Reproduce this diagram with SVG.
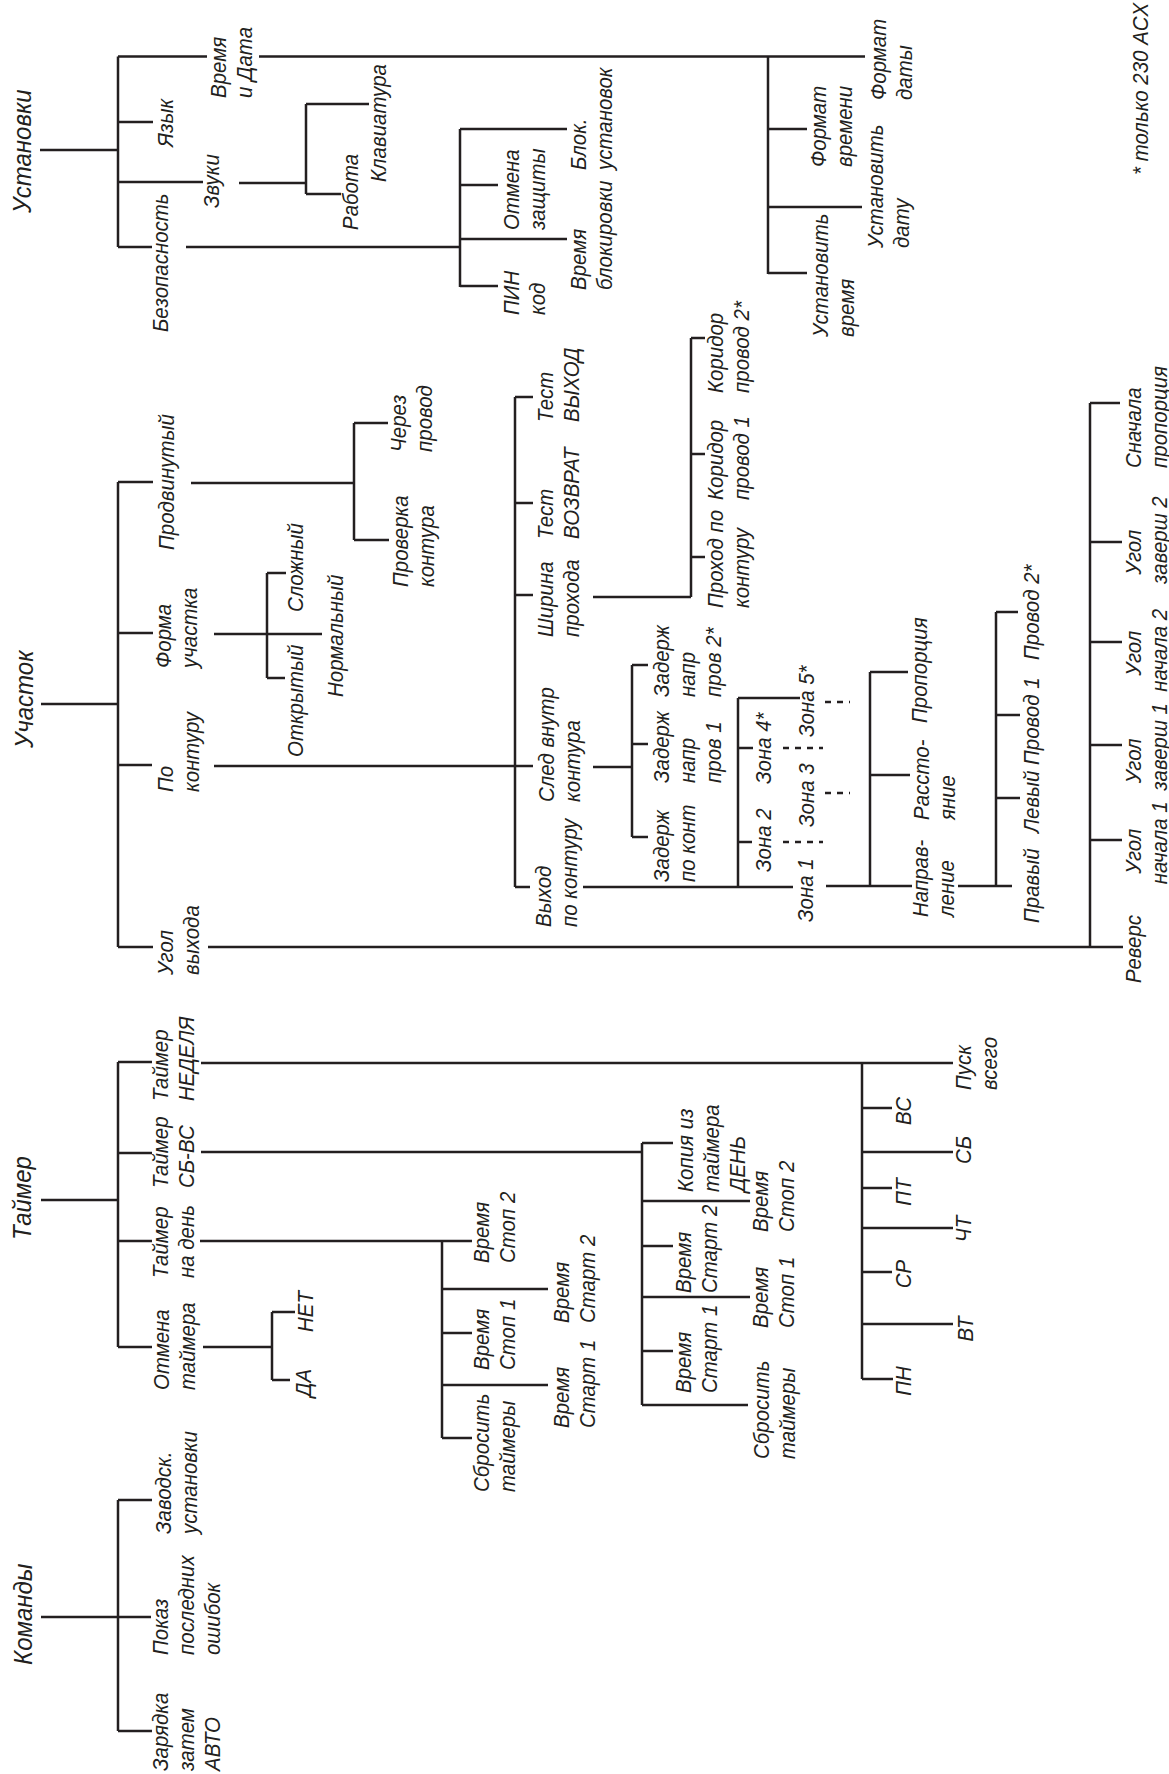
<svg xmlns="http://www.w3.org/2000/svg" width="1169" height="1774" viewBox="0 0 1169 1774">
<style>
.t{font-family:"Liberation Sans",Arial,sans-serif;font-style:italic;font-size:22px;fill:#231f20}
.h{font-family:"Liberation Sans",Arial,sans-serif;font-style:italic;font-size:25px;fill:#231f20}
.m{text-anchor:middle}
#connectors path{fill:none;stroke:#231f20;stroke-width:2.5}
#connectors path.d{stroke-dasharray:6 6}
</style>
<rect width="1169" height="1774" fill="#fff"/>
<g id="connectors">
<path d="M40 150H118M118 56.5V247M118 56.5H207M118 122H153M118 182H203M118 247H152M259 56.5H865"/>
<path d="M239 183H306M306 104V194M306 104H369M306 194H341"/>
<path d="M186 247H460M460 129V287M460 129H567M460 185H498M460 239H567M460 286H498"/>
<path d="M768 56.5V274M768 129H807M768 207H862M768 273H807"/>
<path d="M41 704H118M118 482V947M118 482H153M118 633H153M118 765H152M118 947H153"/>
<path d="M191 483H354M354 423V540M354 423H388M354 540H389"/>
<path d="M214 634H322M267 573V678M267 573H286M267 678H285"/>
<path d="M214 766H533M515 397V887M515 397H533M515 503H533M515 595H533M515 887H530"/>
<path d="M593 597H691M691 338V597M691 338H705M691 454H705M691 557H705"/>
<path d="M593 767H632M632 665V837M632 665H648M632 744H648M632 837H648"/>
<path d="M583 887H793M738 698V887M738 698H800M738 748H753M738 842H752"/>
<path class="d" d="M783 748H823M783 842H823M825 793H850M825 702H850"/>
<path d="M826 886H912M870 672V886M870 672H908M870 775H910"/>
<path d="M958 886H1012M996 612V886M996 612H1018M996 715H1020M996 798H1020"/>
<path d="M208 947H1123M1090 403V947M1090 403H1120M1090 542H1122M1090 642H1122M1090 745H1122M1090 840H1122"/>
<path d="M41 1200H118M118 1062V1347M118 1062H152M118 1153H152M118 1241H152M118 1347H152"/>
<path d="M201 1063H953M862 1063V1379M862 1108H892M862 1188H892M862 1272H892M862 1379H893M862 1152H953M862 1228H953M862 1324H953"/>
<path d="M201 1152H642M642 1143V1405M642 1143H673M642 1246H673M642 1351H673M642 1201H750M642 1297H750M642 1405H748"/>
<path d="M200 1241H472M442 1241V1438M442 1289H548M442 1385H548M442 1333H472M442 1438H472"/>
<path d="M203 1347H272M272 1312V1380M272 1312H295M272 1380H290"/>
<path d="M41 1617H118M118 1500V1731M118 1500H152M118 1617H151M118 1731H152"/>
</g>

<g id="n-ustanovki"><text class="h" transform="translate(31,213) rotate(-90) scale(0.96,1)">Установки</text></g>
<g id="n-vremya-data"><text class="t" transform="translate(226,98) rotate(-90) scale(0.93,1)"><tspan x="0">Время</tspan><tspan x="0" dy="26">и Дата</tspan></text></g>
<g id="n-yazyk"><text class="t" transform="translate(173,147) rotate(-90) scale(0.93,1)">Язык</text></g>
<g id="n-zvuki"><text class="t" transform="translate(219,208) rotate(-90) scale(0.93,1)">Звуки</text></g>
<g id="n-rabota"><text class="t" transform="translate(358,230) rotate(-90) scale(0.93,1)">Работа</text></g>
<g id="n-klaviatura"><text class="t" transform="translate(386,182) rotate(-90) scale(0.93,1)">Клавиатура</text></g>
<g id="n-bezopasnost"><text class="t" transform="translate(168,332) rotate(-90) scale(0.93,1)">Безопасность</text></g>
<g id="n-otmena-zashchity"><text class="t" transform="translate(519,230) rotate(-90) scale(0.93,1)"><tspan x="0">Отмена</tspan><tspan x="0" dy="26">защиты</tspan></text></g>
<g id="n-pin"><text class="t" transform="translate(519,315) rotate(-90) scale(0.93,1)"><tspan x="0">ПИН</tspan><tspan x="0" dy="26">код</tspan></text></g>
<g id="n-vremya-blok"><text class="t" transform="translate(586,290) rotate(-90) scale(0.93,1)"><tspan x="0">Время</tspan><tspan x="0" dy="26">блокировки</tspan></text></g>
<g id="n-blok-ust"><text class="t" transform="translate(586,170) rotate(-90) scale(0.93,1)"><tspan x="0">Блок.</tspan><tspan x="0" dy="26">установок</tspan></text></g>
<g id="n-format-daty"><text class="t" transform="translate(886,100) rotate(-90) scale(0.93,1)"><tspan x="0">Формат</tspan><tspan x="0" dy="26">даты</tspan></text></g>
<g id="n-format-vremeni"><text class="t" transform="translate(826,167) rotate(-90) scale(0.93,1)"><tspan x="0">Формат</tspan><tspan x="0" dy="26">времени</tspan></text></g>
<g id="n-ust-datu"><text class="t" transform="translate(883,248) rotate(-90) scale(0.93,1)"><tspan x="0">Установить</tspan><tspan x="0" dy="26">дату</tspan></text></g>
<g id="n-ust-vremya"><text class="t" transform="translate(828,337) rotate(-90) scale(0.93,1)"><tspan x="0">Установить</tspan><tspan x="0" dy="26">время</tspan></text></g>
<g id="footnote"><text class="t" transform="translate(1148,175) rotate(-90) scale(0.93,1)">* только 230 ACX</text></g>

<g id="n-uchastok"><text class="h" transform="translate(33,748) rotate(-90) scale(0.96,1)">Участок</text></g>
<g id="n-prodvinuty"><text class="t" transform="translate(174,550) rotate(-90) scale(0.93,1)">Продвинутый</text></g>
<g id="n-cherez"><text class="t" transform="translate(406,452) rotate(-90) scale(0.93,1)"><tspan x="0">Через</tspan><tspan x="0" dy="26">провод</tspan></text></g>
<g id="n-proverka"><text class="t" transform="translate(408,587) rotate(-90) scale(0.93,1)"><tspan x="0">Проверка</tspan><tspan x="0" dy="26">контура</tspan></text></g>
<g id="n-forma"><text class="t" transform="translate(171,668) rotate(-90) scale(0.93,1)"><tspan x="0">Форма</tspan><tspan x="0" dy="26">участка</tspan></text></g>
<g id="n-slozhny"><text class="t" transform="translate(303,612) rotate(-90) scale(0.93,1)">Сложный</text></g>
<g id="n-otkryty"><text class="t" transform="translate(303,757) rotate(-90) scale(0.93,1)">Открытый</text></g>
<g id="n-normalny"><text class="t" transform="translate(343,697) rotate(-90) scale(0.93,1)">Нормальный</text></g>
<g id="n-po-konturu"><text class="t" transform="translate(173,792) rotate(-90) scale(0.93,1)"><tspan x="0">По</tspan><tspan x="0" dy="26">контуру</tspan></text></g>
<g id="n-ugol-vyhoda"><text class="t" transform="translate(173,975) rotate(-90) scale(0.93,1)"><tspan x="0">Угол</tspan><tspan x="0" dy="26">выхода</tspan></text></g>
<g id="n-test-vyhod"><text class="t" transform="translate(553,422) rotate(-90) scale(0.93,1)"><tspan x="0">Тест</tspan><tspan x="0" dy="26">ВЫХОД</tspan></text></g>
<g id="n-test-vozvrat"><text class="t" transform="translate(553,539) rotate(-90) scale(0.93,1)"><tspan x="0">Тест</tspan><tspan x="0" dy="26">ВОЗВРАТ</tspan></text></g>
<g id="n-shirina"><text class="t" transform="translate(553,637) rotate(-90) scale(0.93,1)"><tspan x="0">Ширина</tspan><tspan x="0" dy="26">прохода</tspan></text></g>
<g id="n-koridor2"><text class="t" transform="translate(723,393) rotate(-90) scale(0.93,1)"><tspan x="0">Коридор</tspan><tspan x="0" dy="26">провод 2*</tspan></text></g>
<g id="n-koridor1"><text class="t" transform="translate(723,500) rotate(-90) scale(0.93,1)"><tspan x="0">Коридор</tspan><tspan x="0" dy="26">провод 1</tspan></text></g>
<g id="n-prohod"><text class="t" transform="translate(723,608) rotate(-90) scale(0.93,1)"><tspan x="0">Проход по</tspan><tspan x="0" dy="26">контуру</tspan></text></g>
<g id="n-sled"><text class="t" transform="translate(554,802) rotate(-90) scale(0.93,1)"><tspan x="0">След внутр</tspan><tspan x="0" dy="26">контура</tspan></text></g>
<g id="n-zad2"><text class="t" transform="translate(669,697) rotate(-90) scale(0.93,1)"><tspan x="0">Задерж</tspan><tspan x="0" dy="26">напр</tspan><tspan x="0" dy="26">пров 2*</tspan></text></g>
<g id="n-zad1"><text class="t" transform="translate(669,783) rotate(-90) scale(0.93,1)"><tspan x="0">Задерж</tspan><tspan x="0" dy="26">напр</tspan><tspan x="0" dy="26">пров 1</tspan></text></g>
<g id="n-zad-kont"><text class="t" transform="translate(669,882) rotate(-90) scale(0.93,1)"><tspan x="0">Задерж</tspan><tspan x="0" dy="26">по конт</tspan></text></g>
<g id="n-vyhod"><text class="t" transform="translate(551,927) rotate(-90) scale(0.93,1)"><tspan x="0">Выход</tspan><tspan x="0" dy="26">по контуру</tspan></text></g>
<g id="n-zona1"><text class="t" transform="translate(813,922) rotate(-90) scale(0.93,1)">Зона 1</text></g>
<g id="n-zona2"><text class="t" transform="translate(771,872) rotate(-90) scale(0.93,1)">Зона 2</text></g>
<g id="n-zona3"><text class="t" transform="translate(814,827) rotate(-90) scale(0.93,1)">Зона 3</text></g>
<g id="n-zona4"><text class="t" transform="translate(771,784) rotate(-90) scale(0.93,1)">Зона 4*</text></g>
<g id="n-zona5"><text class="t" transform="translate(814,737) rotate(-90) scale(0.93,1)">Зона 5*</text></g>
<g id="n-napravlenie"><text class="t" transform="translate(928,917) rotate(-90) scale(0.93,1)"><tspan x="0">Направ-</tspan><tspan x="0" dy="26">ление</tspan></text></g>
<g id="n-rasstoyanie"><text class="t" transform="translate(929,820) rotate(-90) scale(0.93,1)"><tspan x="0">Рассто-</tspan><tspan x="0" dy="26">яние</tspan></text></g>
<g id="n-proporciya"><text class="t" transform="translate(927,723) rotate(-90) scale(0.93,1)">Пропорция</text></g>
<g id="n-pravy"><text class="t" transform="translate(1039,923) rotate(-90) scale(0.93,1)">Правый</text></g>
<g id="n-levy"><text class="t" transform="translate(1039,833) rotate(-90) scale(0.93,1)">Левый</text></g>
<g id="n-provod1"><text class="t" transform="translate(1039,765) rotate(-90) scale(0.93,1)">Провод 1</text></g>
<g id="n-provod2"><text class="t" transform="translate(1039,660) rotate(-90) scale(0.93,1)">Провод 2*</text></g>
<g id="n-revers"><text class="t" transform="translate(1141,983) rotate(-90) scale(0.93,1)">Реверс</text></g>
<g id="n-ugol-nach1"><text class="t m" transform="translate(1141,840) rotate(-90) scale(0.93,1)"><tspan x="-12">Угол</tspan><tspan x="-3" dy="26">начала 1</tspan></text></g>
<g id="n-ugol-zav1"><text class="t m" transform="translate(1141,745) rotate(-90) scale(0.93,1)"><tspan x="-17">Угол</tspan><tspan x="-2" dy="26">заверш 1</tspan></text></g>
<g id="n-ugol-nach2"><text class="t m" transform="translate(1141,642) rotate(-90) scale(0.93,1)"><tspan x="-12">Угол</tspan><tspan x="-9" dy="26">начала 2</tspan></text></g>
<g id="n-ugol-zav2"><text class="t m" transform="translate(1141,542) rotate(-90) scale(0.93,1)"><tspan x="-11">Угол</tspan><tspan x="2" dy="26">заверш 2</tspan></text></g>
<g id="n-snachala"><text class="t" transform="translate(1141,468) rotate(-90) scale(0.93,1)"><tspan x="0">Сначала</tspan><tspan x="0" dy="26">пропорция</tspan></text></g>

<g id="n-taymer"><text class="h" transform="translate(31,1240) rotate(-90) scale(0.96,1)">Таймер</text></g>
<g id="n-nedelya"><text class="t" transform="translate(168,1101) rotate(-90) scale(0.93,1)"><tspan x="0">Таймер</tspan><tspan x="0" dy="26">НЕДЕЛЯ</tspan></text></g>
<g id="n-sb-vs"><text class="t" transform="translate(168,1188) rotate(-90) scale(0.93,1)"><tspan x="0">Таймер</tspan><tspan x="0" dy="26">СБ-ВС</tspan></text></g>
<g id="n-na-den"><text class="t" transform="translate(168,1278) rotate(-90) scale(0.93,1)"><tspan x="0">Таймер</tspan><tspan x="0" dy="26">на день</tspan></text></g>
<g id="n-otmena-taymera"><text class="t" transform="translate(169,1390) rotate(-90) scale(0.93,1)"><tspan x="0">Отмена</tspan><tspan x="0" dy="26">таймера</tspan></text></g>
<g id="n-net"><text class="t" transform="translate(313,1332) rotate(-90) scale(0.93,1)">НЕТ</text></g>
<g id="n-da"><text class="t" transform="translate(311,1397) rotate(-90) scale(0.93,1)">ДА</text></g>
<g id="n-pusk"><text class="t" transform="translate(971,1090) rotate(-90) scale(0.93,1)"><tspan x="0">Пуск</tspan><tspan x="0" dy="26">всего</tspan></text></g>
<g id="n-vs"><text class="t m" transform="translate(911,1111) rotate(-90) scale(0.93,1)">ВС</text></g>
<g id="n-sb"><text class="t m" transform="translate(971,1150) rotate(-90) scale(0.93,1)">СБ</text></g>
<g id="n-pt"><text class="t m" transform="translate(911,1192) rotate(-90) scale(0.93,1)">ПТ</text></g>
<g id="n-cht"><text class="t m" transform="translate(971,1229) rotate(-90) scale(0.93,1)">ЧТ</text></g>
<g id="n-sr"><text class="t m" transform="translate(911,1274) rotate(-90) scale(0.93,1)">СР</text></g>
<g id="n-vt"><text class="t m" transform="translate(973,1329) rotate(-90) scale(0.93,1)">ВТ</text></g>
<g id="n-pn"><text class="t m" transform="translate(911,1381) rotate(-90) scale(0.93,1)">ПН</text></g>
<g id="n-kopiya"><text class="t" transform="translate(693,1192) rotate(-90) scale(0.93,1)"><tspan x="0">Копия из</tspan><tspan x="0" dy="26">таймера</tspan><tspan x="0" dy="26">ДЕНЬ</tspan></text></g>
<g id="n-sbvs-stop2"><text class="t" transform="translate(768,1232) rotate(-90) scale(0.93,1)"><tspan x="0">Время</tspan><tspan x="0" dy="26">Стоп 2</tspan></text></g>
<g id="n-sbvs-start2"><text class="t" transform="translate(691,1293) rotate(-90) scale(0.93,1)"><tspan x="0">Время</tspan><tspan x="0" dy="26">Старт 2</tspan></text></g>
<g id="n-sbvs-stop1"><text class="t" transform="translate(768,1328) rotate(-90) scale(0.93,1)"><tspan x="0">Время</tspan><tspan x="0" dy="26">Стоп 1</tspan></text></g>
<g id="n-sbvs-start1"><text class="t" transform="translate(691,1393) rotate(-90) scale(0.93,1)"><tspan x="0">Время</tspan><tspan x="0" dy="26">Старт 1</tspan></text></g>
<g id="n-sbvs-sbros"><text class="t" transform="translate(769,1459) rotate(-90) scale(0.93,1)"><tspan x="0">Сбросить</tspan><tspan x="0" dy="26">таймеры</tspan></text></g>
<g id="n-den-stop2"><text class="t" transform="translate(489,1263) rotate(-90) scale(0.93,1)"><tspan x="0">Время</tspan><tspan x="0" dy="26">Стоп 2</tspan></text></g>
<g id="n-den-start2"><text class="t" transform="translate(569,1323) rotate(-90) scale(0.93,1)"><tspan x="0">Время</tspan><tspan x="0" dy="26">Старт 2</tspan></text></g>
<g id="n-den-stop1"><text class="t" transform="translate(489,1370) rotate(-90) scale(0.93,1)"><tspan x="0">Время</tspan><tspan x="0" dy="26">Стоп 1</tspan></text></g>
<g id="n-den-start1"><text class="t" transform="translate(569,1428) rotate(-90) scale(0.93,1)"><tspan x="0">Время</tspan><tspan x="0" dy="26">Старт 1</tspan></text></g>
<g id="n-den-sbros"><text class="t" transform="translate(489,1492) rotate(-90) scale(0.93,1)"><tspan x="0">Сбросить</tspan><tspan x="0" dy="26">таймеры</tspan></text></g>

<g id="n-komandy"><text class="h" transform="translate(32,1665) rotate(-90) scale(0.96,1)">Команды</text></g>
<g id="n-zavodsk"><text class="t" transform="translate(171,1534) rotate(-90) scale(0.93,1)"><tspan x="0">Заводск.</tspan><tspan x="0" dy="26">установки</tspan></text></g>
<g id="n-pokaz"><text class="t" transform="translate(168,1655) rotate(-90) scale(0.93,1)"><tspan x="0">Показ</tspan><tspan x="0" dy="26">последних</tspan><tspan x="0" dy="26">ошибок</tspan></text></g>
<g id="n-zaryadka"><text class="t" transform="translate(168,1771) rotate(-90) scale(0.93,1)"><tspan x="0">Зарядка</tspan><tspan x="0" dy="26">затем</tspan><tspan x="0" dy="26">АВТО</tspan></text></g>
</svg>
